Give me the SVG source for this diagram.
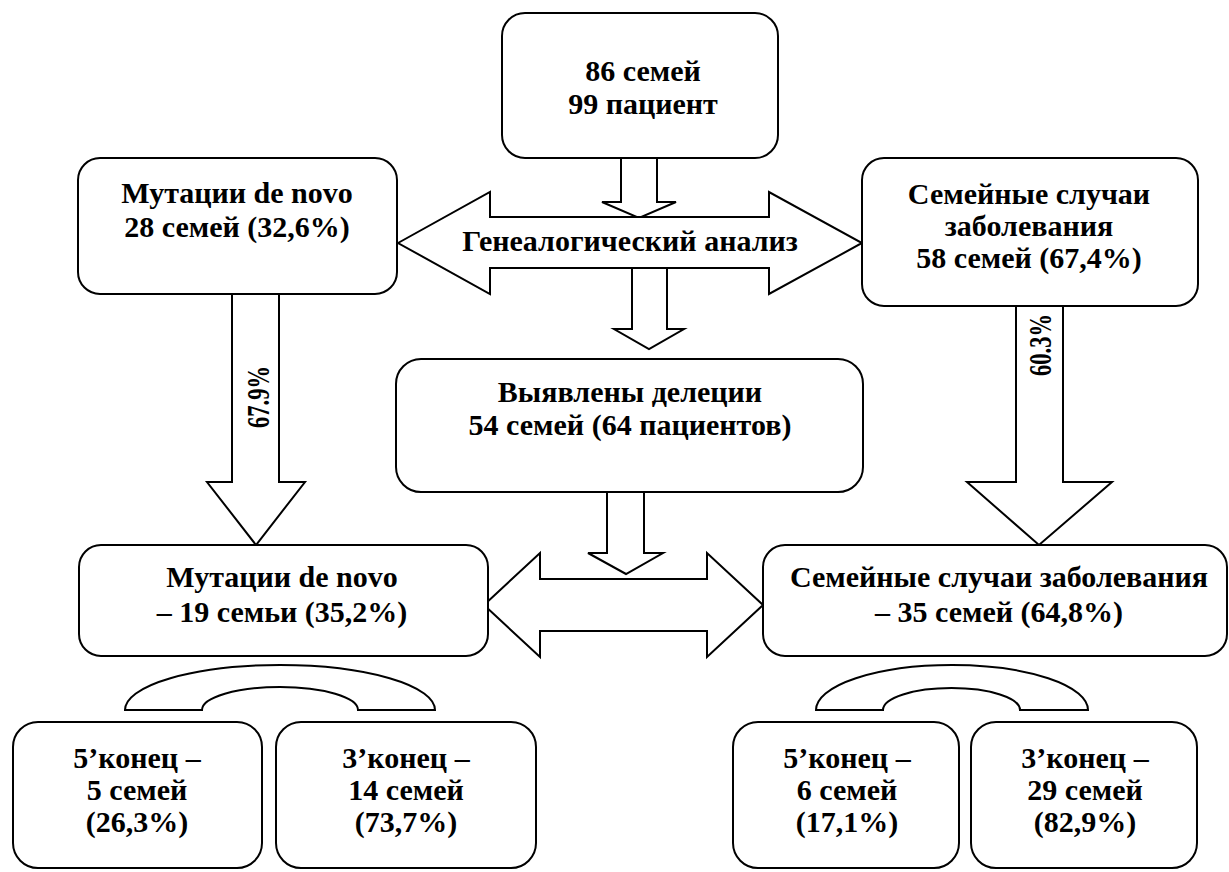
<svg xmlns="http://www.w3.org/2000/svg" width="1229" height="872" viewBox="0 0 1229 872">
<style>
.box{fill:#fff;stroke:#000;stroke-width:2}
.arr{fill:#fff;stroke:#000;stroke-width:2;stroke-linejoin:miter}
text{font-family:"Liberation Serif","Times New Roman",serif;font-weight:bold;font-size:30px;fill:#000;text-anchor:middle}
.rot{font-size:31px}
</style>
<rect width="1229" height="872" fill="#fff"/>
<g id="connectors">
<polygon class="arr" points="621,158 657,158 657,202 676,202 639,218 602,202 621,202"/>
<polygon class="arr" points="398,243 490,192 490,217 769,217 769,192 862,243 769,294 769,268 490,268 490,294"/>
<polygon class="arr" points="632,268 667,268 667,329 684,329 649,349 614,329 632,329"/>
<polygon class="arr" points="232,294 279,294 279,482 305,482 256,545 207,482 232,482"/>
<polygon class="arr" points="1016,306 1063,306 1063,482 1112,482 1039,545 967,482 1016,482"/>
<polygon class="arr" points="607,492 644,492 644,553 663,553 626,574 588,553 607,553"/>
<polygon class="arr" points="484,605 540,553 540,579 707,579 707,553 763,605 707,657 707,631 540,631 540,657"/>
<path class="arr" d="M125,710 A155,45 0 0 1 435,710 L358,710 A78,23 0 0 0 202,710 Z"/>
<path class="arr" d="M816,710 A136,45 0 0 1 1088,710 L1020,710 A68.5,22 0 0 0 883,710 Z"/>
<text x="630" y="251">Генеалогический анализ</text>
<text class="rot" transform="translate(269,397) rotate(-90)" textLength="62" lengthAdjust="spacingAndGlyphs">67.9%</text>
<text class="rot" transform="translate(1051,345) rotate(-90)" textLength="62" lengthAdjust="spacingAndGlyphs">60.3%</text>
</g>
<g id="n_top">
<rect class="box" x="502" y="13" width="276" height="145" rx="23"/>
<text x="643" y="81">86 семей</text>
<text x="643" y="114">99 пациент</text>
</g>
<g id="n_denovo">
<rect class="box" x="78" y="158" width="319" height="136" rx="22"/>
<text x="237" y="203">Мутации de novo</text>
<text x="237" y="237">28 семей (32,6%)</text>
</g>
<g id="n_family">
<rect class="box" x="862" y="158" width="336" height="148" rx="22"/>
<text x="1029" y="204">Семейные случаи</text>
<text x="1029" y="236">заболевания</text>
<text x="1029" y="268">58 семей (67,4%)</text>
</g>
<g id="n_deletions">
<rect class="box" x="396" y="359" width="467" height="133" rx="25"/>
<text x="630" y="402">Выявлены делеции</text>
<text x="630" y="435">54 семей (64 пациентов)</text>
</g>
<g id="n_denovo2">
<rect class="box" x="79" y="545" width="409" height="111" rx="22"/>
<text x="282" y="587">Мутации de novo</text>
<text x="282" y="622">– 19 семьи (35,2%)</text>
</g>
<g id="n_family2">
<rect class="box" x="763" y="545" width="464" height="111" rx="22"/>
<text x="999" y="587">Семейные случаи заболевания</text>
<text x="999" y="622">– 35 семей (64,8%)</text>
</g>
<g id="n_l5">
<rect class="box" x="13" y="722" width="249" height="146" rx="25"/>
<text x="137" y="768">5’конец –</text>
<text x="137" y="800">5 семей</text>
<text x="137" y="832">(26,3%)</text>
</g>
<g id="n_l3">
<rect class="box" x="276" y="722" width="260" height="146" rx="25"/>
<text x="406" y="768">3’конец –</text>
<text x="406" y="800">14 семей</text>
<text x="406" y="832">(73,7%)</text>
</g>
<g id="n_r5">
<rect class="box" x="733" y="722" width="226" height="146" rx="25"/>
<text x="847" y="768">5’конец –</text>
<text x="847" y="800">6 семей</text>
<text x="847" y="832">(17,1%)</text>
</g>
<g id="n_r3">
<rect class="box" x="971" y="722" width="226" height="146" rx="25"/>
<text x="1085" y="768">3’конец –</text>
<text x="1085" y="800">29 семей</text>
<text x="1085" y="832">(82,9%)</text>
</g>
</svg>
